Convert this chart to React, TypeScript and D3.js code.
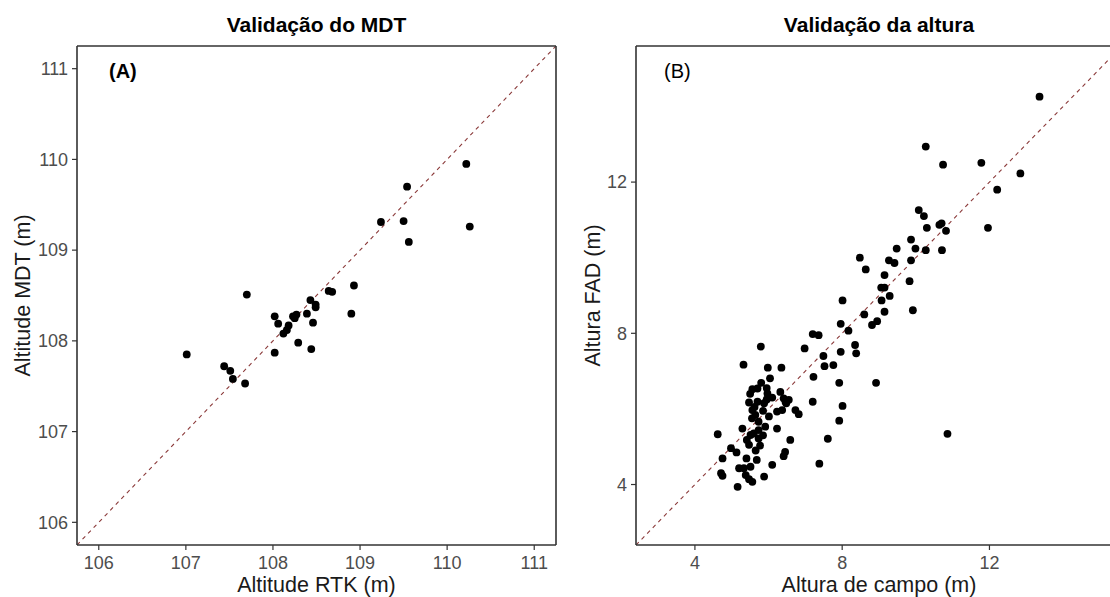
import React from "react";
import * as d3 from "d3";

// Panel A: terrain model (MDT) vs RTK survey altitude
const rtkAltitude = [
  107.01, 107.44, 107.51, 107.54, 107.68, 107.70, 108.02, 108.02, 108.06, 108.12,
  108.16, 108.18, 108.23, 108.25, 108.27, 108.29, 108.39, 108.43, 108.44, 108.46,
  108.49, 108.49, 108.64, 108.68, 108.90, 108.93, 109.24, 109.50, 109.54, 109.56,
  110.22, 110.26,
];
const mdtAltitude = [
  107.85, 107.72, 107.67, 107.58, 107.53, 108.51, 108.27, 107.87, 108.19, 108.08,
  108.12, 108.17, 108.27, 108.25, 108.29, 107.98, 108.30, 108.45, 107.91, 108.20,
  108.40, 108.37, 108.55, 108.54, 108.30, 108.61, 109.31, 109.32, 109.70, 109.09,
  109.95, 109.26,
];

// Panel B: tree height measured in the field vs FAD estimate
const fieldHeight = [
  13.36, 10.27, 10.74, 11.78, 12.84, 12.21, 11.96, 10.08, 10.22, 10.30,
  10.64, 10.70, 10.82, 10.71, 10.27, 9.87, 9.99, 9.87, 9.48, 9.27,
  9.42, 8.48, 8.64, 9.15, 9.83, 9.06, 9.15, 9.29, 9.07, 9.15,
  8.60, 8.01, 9.92, 8.95, 8.81, 7.96, 8.17, 7.20, 7.36, 6.98,
  7.49, 7.96, 8.35, 8.38, 7.52, 7.76, 7.22, 7.92, 8.92, 7.20,
  8.01, 7.92, 7.61, 7.38, 10.86,
  5.79, 5.32, 5.98, 6.35, 6.04, 5.80, 5.56, 5.70, 5.97, 6.32,
  6.41, 6.48, 5.47, 5.70, 5.88, 6.23, 6.37, 6.73, 6.82, 5.56,
  5.64, 6.01, 5.73, 5.91, 5.29, 5.73, 6.23, 5.51, 5.41, 5.73,
  5.47, 5.77, 6.59, 4.62, 4.98, 5.13, 6.45, 6.41, 4.75, 5.40,
  5.68, 6.10, 5.20, 5.33, 5.51, 4.71, 4.75, 5.38, 5.47, 5.88,
  5.16, 5.56, 6.55, 6.46, 5.62, 5.85, 5.95, 5.55, 5.60, 5.85,
  5.65, 5.95, 6.10, 5.50,
];
const fadHeight = [
  14.26, 12.94, 12.46, 12.51, 12.23, 11.80, 10.79, 11.26, 11.10, 10.79,
  10.87, 10.91, 10.71, 10.20, 10.20, 10.48, 10.24, 9.93, 10.24, 9.93,
  9.86, 10.00, 9.69, 9.54, 9.38, 9.21, 9.21, 8.99, 8.87, 8.57,
  8.50, 8.87, 8.61, 8.32, 8.22, 8.25, 8.07, 7.98, 7.95, 7.60,
  7.40, 7.51, 7.69, 7.47, 7.13, 7.16, 6.85, 6.69, 6.69, 6.19,
  6.08, 5.69, 5.21, 4.55, 5.34,
  7.65, 7.17, 7.09, 7.09, 6.81, 6.69, 6.52, 6.54, 6.41, 6.45,
  6.28, 6.15, 6.17, 6.19, 6.15, 5.93, 5.97, 5.97, 5.86, 5.97,
  5.84, 5.80, 5.66, 5.53, 5.48, 5.44, 5.48, 5.31, 5.18, 5.22,
  5.05, 5.03, 5.18, 5.33, 4.96, 4.85, 4.86, 4.75, 4.69, 4.69,
  4.65, 4.52, 4.43, 4.43, 4.47, 4.30, 4.23, 4.25, 4.14, 4.21,
  3.94, 4.07, 6.24, 6.19, 6.05, 5.95, 6.25, 5.75, 5.35, 5.30,
  4.90, 6.55, 6.30, 6.40,
];

const ticksA = [106, 107, 108, 109, 110, 111];
const ticksB = [4, 8, 12];

const W = 1110;
const H = 597;
const TOP = 46;
const BOTTOM = 545;

const FONT = "'Liberation Sans', Arial, sans-serif";
const BORDER = "#333333";
const TICK_TEXT = "#4d4d4d";

type PanelProps = {
  left: number;
  right: number;
  domain: [number, number];
  ticks: number[];
  xs: number[];
  ys: number[];
  title: string;
  tag: string;
  tagBold: boolean;
  tagX: number;
  xTitle: string;
  yTitle: string;
  yTitleX: number;
  clipId: string;
};

function Panel(p: PanelProps) {
  const x = d3.scaleLinear().domain(p.domain).range([p.left, p.right]);
  const y = d3.scaleLinear().domain(p.domain).range([BOTTOM, TOP]);
  const [d0, d1] = p.domain;
  const visibleRight = Math.min(p.right, W);
  const cx = (p.left + p.right) / 2;
  const cy = (TOP + BOTTOM) / 2;

  return (
    <g>
      <defs>
        <clipPath id={p.clipId}>
          <rect x={p.left} y={TOP} width={p.right - p.left} height={BOTTOM - TOP} />
        </clipPath>
      </defs>

      <text
        x={cx}
        y={32}
        textAnchor="middle"
        fontFamily={FONT}
        fontWeight="bold"
        fontSize={21}
        fill="#000"
      >
        {p.title}
      </text>

      {/* 1:1 reference line and observations */}
      <g clipPath={`url(#${p.clipId})`}>
        <line
          x1={x(d0)}
          y1={y(d0)}
          x2={x(d1)}
          y2={y(d1)}
          stroke="#8b3a3a"
          strokeWidth={1.1}
          strokeDasharray="4 4"
        />
        {p.xs.map((v, i) => (
          <circle key={i} cx={x(v)} cy={y(p.ys[i])} r={3.9} fill="#000" />
        ))}
      </g>

      {/* panel border */}
      <line x1={p.left} y1={TOP} x2={visibleRight} y2={TOP} stroke={BORDER} strokeWidth={1.6} />
      <line x1={p.left} y1={BOTTOM} x2={visibleRight} y2={BOTTOM} stroke={BORDER} strokeWidth={1.6} />
      <line x1={p.left} y1={TOP} x2={p.left} y2={BOTTOM} stroke={BORDER} strokeWidth={1.6} />
      {p.right <= W && (
        <line x1={p.right} y1={TOP} x2={p.right} y2={BOTTOM} stroke={BORDER} strokeWidth={1.6} />
      )}

      {/* x axis */}
      {p.ticks.map((t) => (
        <g key={`x${t}`}>
          <line x1={x(t)} x2={x(t)} y1={BOTTOM} y2={BOTTOM + 5} stroke={BORDER} strokeWidth={1.2} />
          <text
            x={x(t)}
            y={BOTTOM + 24}
            textAnchor="middle"
            fontFamily={FONT}
            fontSize={18}
            fill={TICK_TEXT}
          >
            {t}
          </text>
        </g>
      ))}

      {/* y axis */}
      {p.ticks.map((t) => (
        <g key={`y${t}`}>
          <line x1={p.left - 5} x2={p.left} y1={y(t)} y2={y(t)} stroke={BORDER} strokeWidth={1.2} />
          <text
            x={p.left - 9}
            y={y(t)}
            dy="0.35em"
            textAnchor="end"
            fontFamily={FONT}
            fontSize={18}
            fill={TICK_TEXT}
          >
            {t}
          </text>
        </g>
      ))}

      <text
        x={cx}
        y={592}
        textAnchor="middle"
        fontFamily={FONT}
        fontSize={21.5}
        fill="#1a1a1a"
      >
        {p.xTitle}
      </text>
      <text
        transform={`translate(${p.yTitleX},${cy}) rotate(-90)`}
        textAnchor="middle"
        dy="0.35em"
        fontFamily={FONT}
        fontSize={21.5}
        fill="#1a1a1a"
      >
        {p.yTitle}
      </text>

      <text
        x={p.tagX}
        y={78}
        fontFamily={FONT}
        fontWeight={p.tagBold ? "bold" : "normal"}
        fontSize={20}
        fill="#000"
      >
        {p.tag}
      </text>
    </g>
  );
}

export default function App() {
  return (
    <svg
      width={W}
      height={H}
      viewBox={`0 0 ${W} ${H}`}
      style={{ position: "absolute", left: 0, top: 0, background: "#fff" }}
    >
      <rect x={0} y={0} width={W} height={H} fill="#fff" />
      <Panel
        left={77}
        right={556}
        domain={[105.75, 111.25]}
        ticks={ticksA}
        xs={rtkAltitude}
        ys={mdtAltitude}
        title="Validação do MDT"
        tag="(A)"
        tagBold={true}
        tagX={109}
        xTitle="Altitude RTK (m)"
        yTitle="Altitude MDT (m)"
        yTitleX={22}
        clipId="clipA"
      />
      <Panel
        left={636}
        right={1122}
        domain={[2.4, 15.6]}
        ticks={ticksB}
        xs={fieldHeight}
        ys={fadHeight}
        title="Validação da altura"
        tag="(B)"
        tagBold={false}
        tagX={664}
        xTitle="Altura de campo (m)"
        yTitle="Altura FAD (m)"
        yTitleX={592}
        clipId="clipB"
      />
    </svg>
  );
}
